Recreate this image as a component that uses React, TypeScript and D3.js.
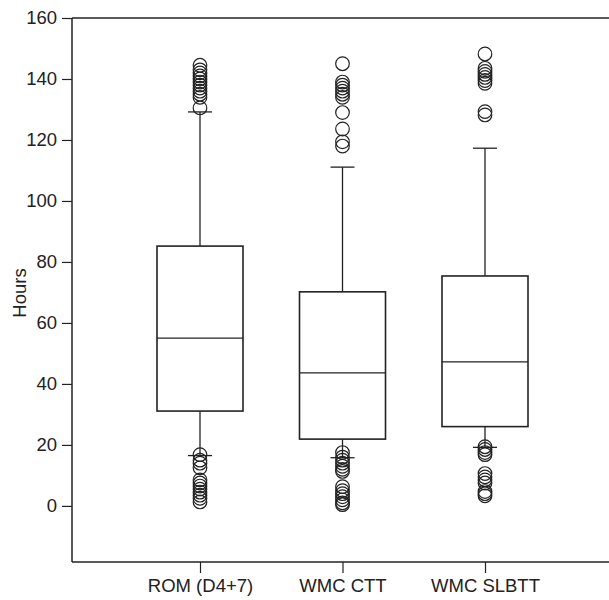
import { useEffect, useRef } from 'react';
import * as d3 from 'd3';

const categories = ['ROM (D4+7)', 'WMC CTT', 'WMC SLBTT'];
const q1 = [31.1, 21.9, 26];
const median = [55, 43.6, 47.2];
const q3 = [85.2, 70.2, 75.4];
const whiskerLow = [16.5, 15.8, 19.2];
const whiskerHigh = [129.2, 111.1, 117.3];
const outliers = [
  [144.5, 143, 142, 141, 140, 139, 138, 137, 136, 135, 134, 130.5, 16.8, 15, 14, 12.5, 8.5, 7.5, 6.5, 5.5, 4.5, 3.5, 2.5, 1.3],
  [145, 139, 138, 137, 136, 135, 134, 129, 123.6, 119.4, 118, 17.5, 16, 15, 14, 13, 12, 11.3, 6.3, 5, 4, 3, 2, 1, 0.4],
  [148.2, 143.5, 142.5, 141.5, 140.5, 139.5, 138.6, 129.3, 128.2, 19.4, 18.5, 17.5, 16.8, 10.6, 9.5, 8.5, 7.5, 4.7, 4, 3.3],
];
const yTicks = [0, 20, 40, 60, 80, 100, 120, 140, 160];

export default function App() {
  const svgRef = useRef(null);

  useEffect(() => {
    const svg = d3.select(svgRef.current);
    svg.selectAll('*').remove();

    const width = 609;
    const left = 72;
    const top = 18;
    const bottom = 562;
    const ink = '#222';
    const font = 'Liberation Sans, Arial, sans-serif';
    const fontSize = '18.5px';

    const y = d3.scaleLinear().domain([-18.4, 160]).range([bottom, top]);
    const x = d3.scalePoint().domain(categories).range([200, 485]);
    const boxHalf = 43;
    const capHalf = 12;

    const g = svg.append('g');

    // frame lines
    g.append('line').attr('x1', left).attr('x2', width).attr('y1', top).attr('y2', top)
      .attr('stroke', ink).attr('stroke-width', 1.5);
    g.append('line').attr('x1', left).attr('x2', width).attr('y1', bottom).attr('y2', bottom)
      .attr('stroke', ink).attr('stroke-width', 1.5);
    g.append('line').attr('x1', left).attr('x2', left).attr('y1', top).attr('y2', bottom)
      .attr('stroke', ink).attr('stroke-width', 1.5);

    // y axis
    const yAxis = g.append('g')
      .attr('transform', `translate(${left},0)`)
      .call(d3.axisLeft(y).tickValues(yTicks).tickSize(10).tickSizeOuter(0).tickPadding(5));
    yAxis.select('.domain').remove();
    yAxis.selectAll('line').attr('stroke', ink).attr('stroke-width', 1.2);
    yAxis.selectAll('text').attr('fill', ink).style('font-size', fontSize).style('font-family', font);

    // x axis
    const xAxis = g.append('g')
      .attr('transform', `translate(0,${bottom})`)
      .call(d3.axisBottom(x).tickSize(11).tickSizeOuter(0).tickPadding(6));
    xAxis.select('.domain').remove();
    xAxis.selectAll('line').attr('stroke', ink).attr('stroke-width', 1.2);
    xAxis.selectAll('text').attr('fill', ink).style('font-size', fontSize).style('font-family', font);

    // y title
    g.append('text')
      .attr('transform', `translate(26,293) rotate(-90)`)
      .attr('text-anchor', 'middle')
      .attr('fill', ink)
      .style('font-size', fontSize)
      .style('font-family', font)
      .text('Hours');

    categories.forEach((c, i) => {
      const cx = x(c);
      const bg = g.append('g');
      // whiskers
      bg.append('line').attr('x1', cx).attr('x2', cx).attr('y1', y(q3[i])).attr('y2', y(whiskerHigh[i]))
        .attr('stroke', ink).attr('stroke-width', 1.3);
      bg.append('line').attr('x1', cx).attr('x2', cx).attr('y1', y(q1[i])).attr('y2', y(whiskerLow[i]))
        .attr('stroke', ink).attr('stroke-width', 1.3);
      [whiskerHigh[i], whiskerLow[i]].forEach(v => {
        bg.append('line').attr('x1', cx - capHalf).attr('x2', cx + capHalf).attr('y1', y(v)).attr('y2', y(v))
          .attr('stroke', ink).attr('stroke-width', 1.3);
      });
      // box
      bg.append('rect')
        .attr('x', cx - boxHalf)
        .attr('width', boxHalf * 2)
        .attr('y', y(q3[i]))
        .attr('height', y(q1[i]) - y(q3[i]))
        .attr('fill', 'white')
        .attr('stroke', ink)
        .attr('stroke-width', 1.6);
      bg.append('line').attr('x1', cx - boxHalf).attr('x2', cx + boxHalf).attr('y1', y(median[i])).attr('y2', y(median[i]))
        .attr('stroke', ink).attr('stroke-width', 1.2);
      // outliers
      bg.selectAll('circle')
        .data(outliers[i])
        .enter()
        .append('circle')
        .attr('cx', cx)
        .attr('cy', d => y(d))
        .attr('r', 6.8)
        .attr('fill', 'none')
        .attr('stroke', ink)
        .attr('stroke-width', 1.2);
    });
  }, []);

  return (
    <svg
      ref={svgRef}
      width={609}
      height={600}
      style={{ position: 'absolute', left: 0, top: 0, background: 'white' }}
    ></svg>
  );
}
